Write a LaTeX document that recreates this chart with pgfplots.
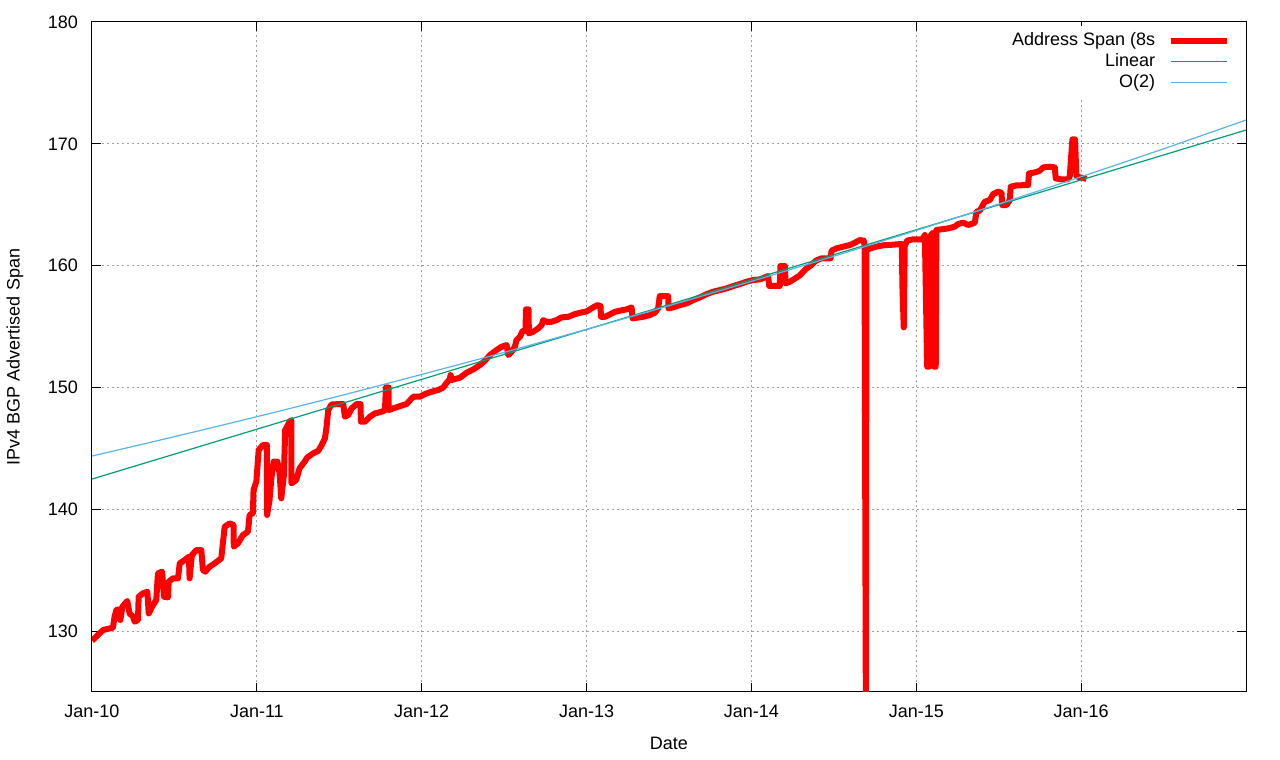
\documentclass[border=0pt]{standalone}
\usepackage{pgfplots}
\pgfplotsset{compat=1.18}
\usepackage{fontspec}
\setmainfont{Liberation Sans}
\definecolor{spanred}{HTML}{FF0000}
\definecolor{lingreen}{HTML}{009E73}
\definecolor{quadblue}{HTML}{56B4E9}
\definecolor{gridgray}{HTML}{A0A0A0}

\pgfplotstableread{
x y
0.000 129.21
0.036 129.68
0.067 130.09
0.127 130.28
0.137 131.18
0.148 131.73
0.162 131.78
0.172 130.91
0.184 132.00
0.214 132.47
0.228 131.45
0.249 131.18
0.259 130.77
0.279 130.91
0.283 132.82
0.309 133.10
0.336 133.23
0.344 131.45
0.370 132.14
0.390 132.55
0.400 134.74
0.425 134.88
0.437 132.82
0.461 132.77
0.465 134.05
0.491 134.33
0.522 134.33
0.532 135.56
0.562 135.83
0.588 136.11
0.592 134.33
0.606 136.24
0.633 136.65
0.663 136.65
0.673 135.01
0.687 134.88
0.714 135.29
0.744 135.56
0.784 135.97
0.805 138.57
0.835 138.84
0.859 138.71
0.860 136.93
0.885 137.20
0.916 137.89
0.946 138.16
0.956 139.53
0.976 139.67
0.980 141.58
0.997 142.27
1.011 144.87
1.037 145.28
1.061 145.28
1.062 139.53
1.077 140.76
1.088 142.54
1.102 143.91
1.124 143.91
1.138 142.95
1.148 140.90
1.164 142.81
1.172 146.51
1.199 147.19
1.209 147.33
1.210 142.13
1.239 142.40
1.259 143.36
1.290 143.91
1.306 144.26
1.342 144.59
1.373 144.80
1.393 145.27
1.413 145.82
1.423 146.78
1.433 148.14
1.453 148.61
1.524 148.64
1.534 147.60
1.554 147.73
1.575 148.28
1.605 148.64
1.629 148.64
1.631 147.19
1.655 147.19
1.686 147.60
1.716 147.87
1.757 148.01
1.777 148.14
1.783 150.00
1.799 150.00
1.800 148.14
1.827 148.28
1.868 148.47
1.908 148.64
1.949 149.24
1.989 149.24
2.020 149.46
2.060 149.65
2.100 149.79
2.131 150.00
2.151 150.39
2.170 150.66
2.175 151.02
2.182 150.61
2.232 150.80
2.272 151.21
2.313 151.48
2.353 151.84
2.383 152.19
2.414 152.66
2.454 153.07
2.484 153.34
2.515 153.48
2.525 152.66
2.545 152.93
2.565 153.34
2.575 153.89
2.596 154.16
2.612 154.65
2.630 154.65
2.632 156.41
2.648 156.41
2.650 154.44
2.676 154.57
2.707 154.85
2.727 155.12
2.737 155.53
2.757 155.39
2.788 155.39
2.818 155.53
2.848 155.75
2.889 155.80
2.929 156.02
2.959 156.13
3.000 156.24
3.040 156.57
3.065 156.76
3.085 156.68
3.087 155.80
3.111 155.80
3.141 155.99
3.172 156.21
3.202 156.30
3.242 156.41
3.273 156.57
3.279 155.67
3.303 155.72
3.343 155.80
3.384 155.94
3.414 156.13
3.434 156.49
3.444 157.50
3.495 157.50
3.497 156.49
3.525 156.57
3.566 156.76
3.606 156.90
3.647 157.17
3.687 157.39
3.728 157.66
3.768 157.86
3.808 157.99
3.849 158.13
3.889 158.32
3.930 158.49
3.970 158.68
4.011 158.82
4.051 158.87
4.101 159.15
4.108 158.33
4.172 158.33
4.176 159.97
4.203 159.97
4.207 158.55
4.233 158.68
4.263 158.93
4.294 159.20
4.314 159.50
4.334 159.78
4.364 160.05
4.391 160.41
4.425 160.60
4.480 160.60
4.486 161.23
4.516 161.42
4.556 161.56
4.597 161.69
4.627 161.88
4.657 162.10
4.681 162.05
4.686 161.69
4.694 124.00
4.698 161.28
4.722 161.42
4.758 161.56
4.799 161.67
4.859 161.72
4.912 161.78
4.916 158.27
4.924 154.93
4.930 161.61
4.944 162.05
4.981 162.16
5.037 162.16
5.052 162.51
5.066 151.70
5.078 151.70
5.082 157.04
5.088 162.51
5.102 162.71
5.108 151.70
5.118 151.70
5.122 162.93
5.152 162.98
5.193 163.06
5.233 163.20
5.254 163.42
5.284 163.53
5.314 163.34
5.334 163.42
5.355 163.53
5.365 164.43
5.385 164.51
5.415 165.24
5.446 165.38
5.466 165.87
5.496 166.07
5.517 165.98
5.521 164.97
5.547 164.97
5.567 165.38
5.573 166.48
5.607 166.59
5.678 166.61
5.684 167.57
5.719 167.65
5.749 167.79
5.769 168.06
5.810 168.12
5.840 168.06
5.846 167.16
5.880 167.08
5.921 167.08
5.931 167.35
5.947 170.36
5.963 170.36
5.971 167.35
5.992 167.24
6.032 167.13
}\spantable

\pgfplotstableread{
x y
0 142.48
7 171.13
}\lintable

\pgfplotstableread{
x y
0.0 144.37
0.5 145.96
1.0 147.60
1.5 149.30
2.0 151.07
2.5 152.88
3.0 154.77
3.5 156.71
4.0 158.71
4.5 160.77
5.0 162.89
5.5 165.06
6.0 167.30
6.5 169.59
7.0 171.95
}\quadtable

\begin{document}
\begin{tikzpicture}
\useasboundingbox (-46pt,-34pt) rectangle (594pt,346pt);
\begin{axis}[
  at={(0,0)}, anchor=south west,
  scale only axis, width=577pt, height=335pt,
  xmin=0, xmax=7, ymin=125, ymax=180,
  xtick={0,1,2,3,4,5,6},
  xticklabels={Jan-10,Jan-11,Jan-12,Jan-13,Jan-14,Jan-15,Jan-16},
  ytick={130,140,150,160,170,180},
  grid=major,
  major grid style={gridgray, line width=0.5pt, dash pattern=on 1pt off 1.5pt},
  tick align=inside, major tick length=4.5pt,
  every tick/.style={black, line width=0.5pt},
  axis line style={line width=0.5pt},
  tick label style={font=\fontsize{9}{11}\selectfont},
  label style={font=\fontsize{9}{11}\selectfont},
  /pgf/number format/assume math mode=true,
  yticklabel style={xshift=-3.5pt},
  xticklabel style={yshift=-3pt},
  xlabel={Date},
  ylabel={IPv4 BGP Advertised Span},
  xlabel style={at={(axis description cs:0.5,-0.0761)}, anchor=center},
  ylabel style={at={(axis description cs:-0.0667,0.5)}, anchor=center},
  legend plot pos=right,
  legend cell align=right,
  legend style={at={(rel axis cs:1,1)}, anchor=north east, xshift=-6pt, yshift=-2pt,
    draw=none, fill=white, font=\fontsize{9}{11}\selectfont, inner sep=2pt,
    row sep=0pt, column sep=5.5pt,
    nodes={text height=7pt, text depth=2pt, inner sep=0.75pt}},
  legend image code/.code={\draw[#1] (0pt,0pt) -- (28pt,0pt);},
]
\addplot[spanred, line width=3pt, line join=round, line cap=butt] table[x=x,y=y] {\spantable};
\addlegendentry{Address Span (8s}
\addplot[lingreen, line width=0.6pt] table[x=x,y=y] {\lintable};
\addlegendentry{Linear}
\addplot[quadblue, line width=0.6pt, smooth] table[x=x,y=y] {\quadtable};
\addlegendentry{O(2)}
\end{axis}
\end{tikzpicture}
\end{document}
